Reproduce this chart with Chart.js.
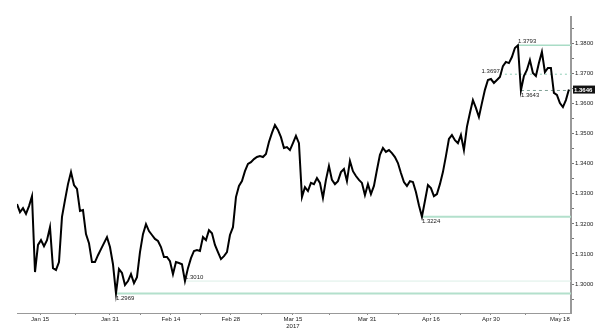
<!DOCTYPE html>
<html>
<head>
<meta charset="utf-8">
<script src="https://cdn.jsdelivr.net/npm/chart.js@4.4.1/dist/chart.umd.min.js"></script>
<style>
  html, body { margin: 0; padding: 0; background: #fff; }
</style>
</head>
<body>
<canvas id="chart" width="600" height="328"></canvas>
<script>
// closing prices, one per sampling step (Jan 2017 .. May 18 2017)
const prices = [
  1.3266, 1.3239, 1.3252, 1.3233, 1.3259, 1.3292, 1.3040, 1.3130, 1.3146, 1.3126,
  1.3146, 1.3189, 1.3053, 1.3047, 1.3073, 1.3223, 1.3279, 1.3332, 1.3372, 1.3329,
  1.3316, 1.3243, 1.3246, 1.3166, 1.3136, 1.3073, 1.3073, 1.3096, 1.3116, 1.3136,
  1.3156, 1.3123, 1.3066, 1.2969, 1.3050, 1.3037, 1.2997, 1.3010, 1.3033, 1.3003,
  1.3023, 1.3106, 1.3166, 1.3199, 1.3176, 1.3163, 1.3150, 1.3143, 1.3123, 1.3090,
  1.3090, 1.3076, 1.3033, 1.3073, 1.3070, 1.3066, 1.3010, 1.3053, 1.3086, 1.3110,
  1.3113, 1.3110, 1.3156, 1.3146, 1.3179, 1.3169, 1.3130, 1.3106, 1.3083, 1.3093,
  1.3106, 1.3163, 1.3189, 1.3289, 1.3326, 1.3342, 1.3375, 1.3399, 1.3405, 1.3415,
  1.3422, 1.3425, 1.3422, 1.3432, 1.3472, 1.3502, 1.3528, 1.3512, 1.3488, 1.3452,
  1.3455, 1.3445, 1.3468, 1.3492, 1.3468, 1.3289, 1.3322, 1.3309, 1.3336, 1.3332,
  1.3352, 1.3336, 1.3286, 1.3346, 1.3392, 1.3346, 1.3332, 1.3342, 1.3372, 1.3382,
  1.3342, 1.3409, 1.3375, 1.3359, 1.3346, 1.3336, 1.3296, 1.3332, 1.3299, 1.3326,
  1.3379, 1.3429, 1.3452, 1.3439, 1.3445, 1.3435, 1.3422, 1.3402, 1.3369, 1.3339,
  1.3326, 1.3342, 1.3339, 1.3306, 1.3262, 1.3224, 1.3276, 1.3329, 1.3319, 1.3292,
  1.3299, 1.3332, 1.3372, 1.3425, 1.3482, 1.3495, 1.3478, 1.3468, 1.3495, 1.3445,
  1.3522, 1.3568, 1.3611, 1.3585, 1.3555, 1.3601, 1.3645, 1.3678, 1.3681, 1.3668,
  1.3678, 1.3688, 1.3724, 1.3738, 1.3734, 1.3754, 1.3784, 1.3793, 1.3643, 1.3691,
  1.3711, 1.3744, 1.3701, 1.3691, 1.3734, 1.3771, 1.3704, 1.3718, 1.3718, 1.3635,
  1.3628, 1.3601, 1.3588, 1.3611, 1.3646
];

// x axis: date labels and the sample index they sit on
const xTickLabels = ["Jan 15", "Jan 31", "Feb 14", "Feb 28", ["Mar 15", "2017"], "Mar 31", "Apr 16", "Apr 30", "May 18"];
const xTickAt = [7.7, 31, 51.3, 71.3, 92, 116.7, 138, 158, 181];

// y axis labelled levels
const yTickValues = [1.30, 1.31, 1.32, 1.33, 1.34, 1.35, 1.36, 1.37, 1.38];

// marked highs / lows and the sample where each one starts
const levels = [1.3793, 1.3697, 1.3643, 1.3224, 1.3010, 1.2969];
const levelFrom = [167, 161, 168, 135, 56, 33];

const levelStyles = [
  { color: "#a9dcc6", width: 1.5, dash: [], place: "above" },
  { color: "#8fcfb6", width: 1, dash: [2, 3], place: "left" },
  { color: "#7f9f94", width: 1, dash: [3, 3], place: "below" },
  { color: "#b3e0cc", width: 2, dash: [], place: "below" },
  { color: "#dcefe7", width: 1, dash: [], place: "above" },
  { color: "#b3e0cc", width: 2, dash: [], place: "below" }
];

const X_MAX = prices.length - 1 + 0.7;
const Y_MIN = 1.2904;
const Y_MAX = 1.3887;
const FONT = { family: "'Liberation Sans', Arial, sans-serif", size: 6 };

const xMinor = xTickAt.slice(1).map((v, i) => (v + xTickAt[i]) / 2);
const yMinor = yTickValues.map(v => v - 0.005).concat([1.385]);

const levelDatasets = levels.map((lv, i) => ({
  data: [{ x: levelFrom[i], y: lv }, { x: X_MAX, y: lv }],
  borderColor: levelStyles[i].color,
  borderWidth: levelStyles[i].width,
  borderDash: levelStyles[i].dash,
  pointRadius: 0,
  order: 2
}));

const annotate = {
  id: "annotate",
  afterDatasetsDraw(chart) {
    const { ctx, scales: { x, y }, chartArea } = chart;
    ctx.save();
    ctx.font = `${FONT.size}px ${FONT.family}`;
    ctx.fillStyle = "#222";
    levels.forEach((lv, i) => {
      const px = x.getPixelForValue(levelFrom[i]);
      const py = y.getPixelForValue(lv);
      const label = lv.toFixed(4);
      const place = levelStyles[i].place;
      if (place === "above") {
        ctx.textAlign = "left"; ctx.textBaseline = "bottom";
        ctx.fillText(label, px, py - 0.5);
      } else if (place === "left") {
        ctx.textAlign = "right"; ctx.textBaseline = "bottom";
        ctx.fillText(label, px, py + 0.5);
      } else {
        ctx.textAlign = "left"; ctx.textBaseline = "top";
        ctx.fillText(label, px, py + 1.5);
      }
    });

    // last price tag on the right axis
    const last = prices[prices.length - 1];
    const ly = y.getPixelForValue(last);
    ctx.fillStyle = "#111";
    ctx.fillRect(chartArea.right + 2, ly - 4, 22, 8);
    ctx.fillStyle = "#fff";
    ctx.textAlign = "left"; ctx.textBaseline = "middle";
    ctx.font = `bold ${FONT.size}px ${FONT.family}`;
    ctx.fillText(last.toFixed(4), chartArea.right + 3, ly + 0.5);
    ctx.restore();
  }
};

new Chart(document.getElementById("chart"), {
  type: "line",
  data: {
    datasets: [
      {
        data: prices.map((p, i) => ({ x: i, y: p })),
        borderColor: "#000",
        borderWidth: 2,
        pointRadius: 0,
        tension: 0,
        order: 1
      },
      ...levelDatasets
    ]
  },
  options: {
    responsive: false,
    animation: false,
    devicePixelRatio: 1,
    layout: { padding: { left: 17, top: 17, right: 0, bottom: 0 } },
    plugins: { legend: { display: false }, tooltip: { enabled: false } },
    scales: {
      x: {
        type: "linear",
        min: 0,
        max: X_MAX,
        afterBuildTicks: axis => {
          axis.ticks = xTickAt.concat(xMinor).sort((a, b) => a - b).map(v => ({ value: v }));
        },
        afterFit: axis => { axis.height = 15; },
        grid: { drawOnChartArea: false, drawTicks: true, tickLength: 2, color: "#888" },
        border: { color: "#999", width: 1 },
        ticks: {
          font: FONT,
          color: "#222",
          padding: 1,
          maxRotation: 0,
          autoSkip: false,
          callback: value => {
            const k = xTickAt.indexOf(value);
            return k >= 0 ? xTickLabels[k] : "";
          }
        }
      },
      y: {
        position: "right",
        min: Y_MIN,
        max: Y_MAX,
        afterBuildTicks: axis => {
          axis.ticks = yTickValues.concat(yMinor).sort((a, b) => a - b).map(v => ({ value: v }));
        },
        afterFit: axis => { axis.width = 29; },
        grid: { drawOnChartArea: false, drawTicks: true, tickLength: 3, color: "#777" },
        border: { color: "#999", width: 2 },
        ticks: {
          font: FONT,
          color: "#222",
          padding: 1,
          callback: value => {
            const major = yTickValues.some(v => Math.abs(v - value) < 1e-6);
            return major ? value.toFixed(4) : "";
          }
        }
      }
    }
  },
  plugins: [annotate]
});
</script>
</body>
</html>
